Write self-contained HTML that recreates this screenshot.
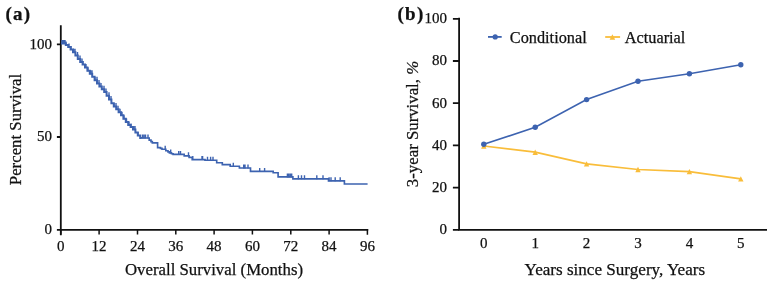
<!DOCTYPE html>
<html><head><meta charset="utf-8"><style>
html,body{margin:0;padding:0;background:#fff;}
svg{display:block;will-change:transform;}
text{font-family:"Liberation Serif",serif;fill:#111;stroke:#111;stroke-width:0.25px;}
</style></head><body>
<svg width="773" height="285" viewBox="0 0 773 285">
<rect width="773" height="285" fill="#fff"/>
<!-- panel a -->
<text x="5.6" y="19.9" font-size="19" font-weight="bold" letter-spacing="1.2">(a)</text>
<g stroke="#111" stroke-width="1.8" fill="none">
<path d="M60.8,25.2V235.2M59.9,229.9H368.2"/>
<path d="M56.9,44.4h4M56.9,137h4M56.9,229.9h4"/>
<path d="M60.8,229.9v4.6M99.1,229.9v4.6M137.5,229.9v4.6M175.8,229.9v4.6M214.1,229.9v4.6M252.4,229.9v4.6M290.8,229.9v4.6M329.1,229.9v4.6M367.4,229.0v5.8" stroke-width="1.5"/>
</g>
<g font-size="15" text-anchor="end">
<text x="52" y="48.7">100</text>
<text x="52" y="141.2">50</text>
<text x="52" y="234.2">0</text>
</g>
<g font-size="15" text-anchor="middle"><text x="60.8" y="251">0</text><text x="99.1" y="251">12</text><text x="137.5" y="251">24</text><text x="175.8" y="251">36</text><text x="214.1" y="251">48</text><text x="252.4" y="251">60</text><text x="290.8" y="251">72</text><text x="329.1" y="251">84</text><text x="367.4" y="251">96</text></g>
<text x="214" y="274.9" font-size="16.8" text-anchor="middle">Overall Survival (Months)</text>
<text transform="translate(20.6,129.5) rotate(-90)" font-size="16.8" text-anchor="middle">Percent Survival</text>
<path d="M61.0,43.4 L63.4,43.4 L63.4,43.6 L65.8,43.6 L65.8,45.0 L68.2,45.0 L68.2,47.0 L70.6,47.0 L70.6,49.4 L73.0,49.4 L73.0,52.2 L75.4,52.2 L75.4,55.6 L77.8,55.6 L77.8,58.9 L80.2,58.9 L80.2,62.0 L82.6,62.0 L82.6,64.6 L85.0,64.6 L85.0,67.5 L87.4,67.5 L87.4,70.7 L89.8,70.7 L89.8,73.8 L92.2,73.8 L92.2,76.8 L94.6,76.8 L94.6,80.3 L97.0,80.3 L97.0,83.5 L99.4,83.5 L99.4,86.5 L101.8,86.5 L101.8,89.3 L104.2,89.3 L104.2,92.1 L106.6,92.1 L106.6,95.8 L109.0,95.8 L109.0,99.5 L111.4,99.5 L111.4,103.2 L113.8,103.2 L113.8,106.4 L116.2,106.4 L116.2,109.3 L118.6,109.3 L118.6,112.2 L121.0,112.2 L121.0,115.3 L123.4,115.3 L123.4,118.8 L125.8,118.8 L125.8,122.0 L128.2,122.0 L128.2,125.1 L130.6,125.1 L130.6,127.0 L133.0,127.0 L133.0,129.4 L135.4,129.4 L135.4,132.6 L137.8,132.6 L137.8,135.4 L140.2,135.4 L140.2,137.9 L141.6,137.9 L141.6,138.0" stroke="#3D63B0" stroke-width="2.0" fill="none" stroke-linejoin="miter"/>
<path d="M141.6,137.9 L141.6,138.0 L149.2,138.0 L149.2,140.1 L151.0,140.1 L151.0,141.6 L152.3,141.6 L152.3,142.9 L157.6,142.9 L157.6,147.6 L160.5,147.6 L160.5,148.4 L162.0,148.4 L162.0,149.2 L165.8,149.2 L165.8,150.7 L168.0,150.7 L168.0,151.8 L169.4,151.8 L169.4,152.9 L171.5,152.9 L171.5,153.7 L173.1,153.7 L173.1,154.4 L184.2,154.4 L184.2,155.8 L189.1,155.8 L189.1,157.4 L192.2,157.4 L192.2,159.6 L205.0,159.6 L205.0,160.2 L216.7,160.2 L216.7,162.7 L222.3,162.7 L222.3,164.6 L230.2,164.6 L230.2,166.2 L239.4,166.2 L239.4,168.0 L250.5,168.0 L250.5,171.4 L273.2,171.4 L273.2,172.7 L278.1,172.7 L278.1,176.9 L292.9,176.9 L292.9,178.8 L328.5,178.8 L328.5,180.8 L344.4,180.8 L344.4,184.0 L367.6,184.0" stroke="#3D63B0" stroke-width="1.65" fill="none" stroke-linejoin="miter"/>
<path d="M62.0,43.9v-4M63.0,43.9v-4M64.0,44.1v-4M65.0,44.1v-4M66.0,45.5v-4M69.0,47.5v-4M71.0,49.9v-4M73.5,52.7v-4M75.0,52.7v-4M77.5,56.1v-4M80.0,59.4v-4M82.0,62.5v-4M83.0,65.1v-4M86.0,68.0v-4M88.0,71.2v-4M90.5,74.3v-4M92.0,74.3v-4M95.0,80.8v-4M97.0,80.8v-4M99.0,84.0v-4M101.0,87.0v-4M104.0,89.8v-4M106.0,92.6v-4M109.0,96.3v-4M111.0,100.0v-4M114.0,106.9v-4M116.0,106.9v-4M118.0,109.8v-4M120.0,112.7v-4M122.0,115.8v-4M124.0,119.3v-4M126.5,122.5v-4M129.0,125.6v-4M131.0,127.5v-4M133.5,129.9v-4M135.0,129.9v-4M138.0,135.9v-4M142.5,138.5v-4M144.0,138.5v-4M145.5,138.5v-4M148.0,138.5v-4M165.2,149.7v-4M170.7,153.4v-4M178.7,154.9v-4M180.5,154.9v-4M188.5,156.3v-4M192.8,160.1v-4M202.0,160.1v-4M202.6,160.1v-4M207.5,160.7v-4M210.6,160.7v-4M213.0,160.7v-4M233.3,166.7v-4M243.7,168.5v-4M245.0,168.5v-4M248.0,168.5v-4M259.7,171.9v-4M264.6,171.9v-4M287.4,177.4v-4M288.8,177.4v-4M290.3,177.4v-4M291.7,177.4v-4M298.4,179.3v-4M301.5,179.3v-4M304.5,179.3v-4M316.8,179.3v-4M323.0,179.3v-4M329.1,181.3v-4M331.0,181.3v-4M335.2,181.3v-4M340.2,181.3v-4" stroke="#3D63B0" stroke-width="1.4" fill="none"/>
<!-- panel b -->
<text x="397.6" y="19.9" font-size="19" font-weight="bold" letter-spacing="1.2">(b)</text>
<g stroke="#111" stroke-width="1.8" fill="none">
<path d="M459.1,17.7V230.7M458.2,229.8H767"/>
<path d="M452.9,229.8h6.2M452.9,187.6h6.2M452.9,145.4h6.2M452.9,103.2h6.2M452.9,61.0h6.2M452.9,18.8h6.2"/>
</g>
<g font-size="15" text-anchor="end"><text x="447.1" y="234.2">0</text><text x="447.1" y="192.0">20</text><text x="447.1" y="149.8">40</text><text x="447.1" y="107.6">60</text><text x="447.1" y="65.4">80</text><text x="447.1" y="23.2">100</text></g>
<g font-size="15" text-anchor="middle"><text x="483.8" y="248">0</text><text x="535.2" y="248">1</text><text x="586.6" y="248">2</text><text x="638.0" y="248">3</text><text x="689.4" y="248">4</text><text x="740.8" y="248">5</text></g>
<text x="614.8" y="275.3" font-size="17.1" text-anchor="middle">Years since Surgery, Years</text>
<text transform="translate(418,124) rotate(-90)" font-size="16.8" text-anchor="middle">3-year Survival, <tspan font-style="italic">%</tspan></text>
<polyline points="483.8,146.0 535.2,152.2 586.6,163.9 638.0,169.5 689.4,171.6 740.8,178.9" stroke="#F9BD3A" stroke-width="1.7" fill="none"/>
<g fill="#F9BD3A"><path d="M483.8,143.3 L486.5,148.7 L481.1,148.7Z"/><path d="M535.2,149.5 L537.9,154.9 L532.5,154.9Z"/><path d="M586.6,161.2 L589.3,166.6 L583.9,166.6Z"/><path d="M638.0,166.8 L640.7,172.2 L635.3,172.2Z"/><path d="M689.4,168.9 L692.1,174.3 L686.7,174.3Z"/><path d="M740.8,176.2 L743.5,181.6 L738.1,181.6Z"/></g>
<polyline points="483.8,144.3 535.2,127.3 586.6,99.6 638.0,81.3 689.4,73.7 740.8,64.8" stroke="#3D63B0" stroke-width="1.6" fill="none"/>
<g fill="#3D63B0"><circle cx="483.8" cy="144.3" r="2.7"/><circle cx="535.2" cy="127.3" r="2.7"/><circle cx="586.6" cy="99.6" r="2.7"/><circle cx="638.0" cy="81.3" r="2.7"/><circle cx="689.4" cy="73.7" r="2.7"/><circle cx="740.8" cy="64.8" r="2.7"/></g>
<!-- legend -->
<path d="M488,36.9H501.7" stroke="#3D63B0" stroke-width="1.8"/>
<circle cx="495.2" cy="36.9" r="2.6" fill="#3D63B0"/>
<text x="509.8" y="42.5" font-size="16.3">Conditional</text>
<path d="M605.2,37H620.1" stroke="#F9BD3A" stroke-width="1.8"/>
<g fill="#F9BD3A"><path d="M612.4,34.2 L615.2,39.8 L609.6,39.8Z"/></g>
<text x="624.8" y="42.5" font-size="16.3">Actuarial</text>
</svg>
</body></html>
